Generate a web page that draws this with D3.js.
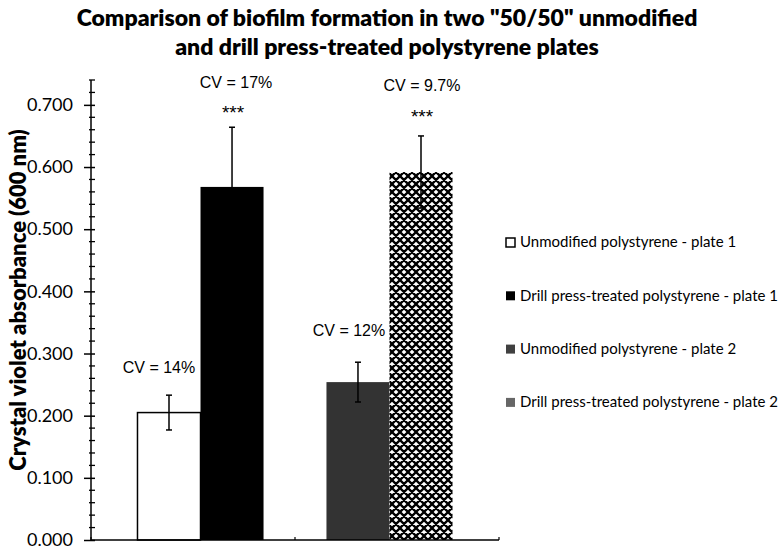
<!DOCTYPE html>
<html lang="en">
<head>
    <meta charset="UTF-8">
    <script src="https://d3js.org/d3.v7.min.js"></script>
    <title>Biofilm formation</title>
    <style>
        body{ margin: 0; background: #fff; }
        svg text{ fill: #000; }
    </style>
</head>
<body>
    <div id="chart"></div>
<script>
// data
const plates = ["plate 1", "plate 2"];
const series = ["Unmodified polystyrene - plate 1", "Drill press-treated polystyrene - plate 1",
                "Unmodified polystyrene - plate 2", "Drill press-treated polystyrene - plate 2"];
const seriesPlate = ["plate 1", "plate 1", "plate 2", "plate 2"];
const absorbance = [0.205, 0.568, 0.254, 0.592];
const errors = [0.028, 0.096, 0.032, 0.058];
const cvLabels = ["CV = 14%", "CV = 17%", "CV = 12%", "CV = 9.7%"];
const stars = ["", "***", "", "***"];
const yTicks = [0, 0.1, 0.2, 0.3, 0.4, 0.5, 0.6, 0.7];

const svg = d3.select("#chart").append("svg").attr("width", 782).attr("height", 550);

// hatch pattern for the last series
const defs = svg.append("defs");
const pat = defs.append("pattern").attr("id", "hatch").attr("patternUnits", "userSpaceOnUse")
    .attr("width", 8).attr("height", 8);
pat.append("rect").attr("width", 8).attr("height", 8).attr("fill", "#fff");
pat.append("path").attr("d", "M-2,2 L2,-2 M0,8 L8,0 M6,10 L10,6 M-2,6 L2,10 M0,0 L8,8 M6,-2 L10,2")
    .attr("stroke", "#000").attr("stroke-width", 2.3);

const fills = ["#fff", "#000", "#333", "url(#hatch)"];

// scales
const y = d3.scaleLinear().domain([0, 0.74]).range([540, 80]);
const x0 = d3.scaleBand().domain(plates).range([91, 499]).paddingInner(0.333).paddingOuter(0.246);
const x1 = d3.scaleBand().domain([0, 1]).range([0, x0.bandwidth()]);
const barX = i => x0(seriesPlate[i]) + x1(i % 2);

// title
const titleFont = "800 23px Lato";
svg.append("text").attr("x", 387).attr("y", 26).attr("text-anchor", "middle")
    .style("font", titleFont).text('Comparison of biofilm formation in two  "50/50" unmodified');
svg.append("text").attr("x", 387).attr("y", 55).attr("text-anchor", "middle")
    .style("font", titleFont).text("and drill  press-treated polystyrene plates");

// y axis label
svg.append("text").attr("transform", "translate(26,300) rotate(-90)").attr("text-anchor", "middle")
    .style("font", "800 22px Lato").text("Crystal violet absorbance (600 nm)");

// bars
const bars = svg.append("g");
absorbance.forEach((v, i) => {
    bars.append("rect")
        .attr("x", barX(i)).attr("width", x1.bandwidth())
        .attr("y", y(v)).attr("height", y(0) - y(v))
        .attr("fill", fills[i])
        .attr("stroke", i === 0 ? "#000" : "none").attr("stroke-width", 1.5);
});

// error bars
const eb = svg.append("g").attr("stroke", "#000").attr("stroke-width", 1.5);
absorbance.forEach((v, i) => {
    const cx = barX(i) + x1.bandwidth() / 2;
    eb.append("line").attr("x1", cx).attr("x2", cx).attr("y1", y(v + errors[i])).attr("y2", y(v - errors[i]));
    [v + errors[i], v - errors[i]].forEach(e => {
        eb.append("line").attr("x1", cx - 3).attr("x2", cx + 3).attr("y1", y(e)).attr("y2", y(e));
    });
});

// CV labels and significance stars
const cvShift = [-10, 4, -9, 1];
const cvLift = [22, 39, 26, 45];
const starLift = [0, 8, 0, 13];
absorbance.forEach((v, i) => {
    const cx = barX(i) + x1.bandwidth() / 2;
    const top = y(v + errors[i]);
    svg.append("text").attr("x", cx + cvShift[i]).attr("y", top - cvLift[i]).attr("text-anchor", "middle")
        .style("font", "16px 'Liberation Sans'").text(cvLabels[i]);
    if (stars[i]) {
        svg.append("text").attr("x", cx + 1).attr("y", top - starLift[i]).attr("text-anchor", "middle")
            .style("font", "19px 'Liberation Sans'").text(stars[i]);
    }
});

// y axis
const yAxis = svg.append("g").attr("transform", "translate(91,0)");
yAxis.call(d3.axisLeft(y).tickValues(yTicks).tickFormat(d3.format(".3f")).tickSizeInner(7).tickSizeOuter(0))
    .call(g => g.select(".domain").attr("stroke", "#000").attr("stroke-width", 1.5))
    .call(g => g.selectAll(".tick line").attr("stroke", "#000").attr("stroke-width", 1.5).attr("x2", -7).attr("x1", 4))
    .call(g => g.selectAll(".tick text").attr("x", -18).style("font", "18px Lato").attr("fill", "#000"));
yAxis.select(".domain").attr("d", `M0,${y(0.74)}V${y(0)}`);
const minor = d3.range(0, 0.741, 0.02).filter(t => Math.abs(t * 10 - Math.round(t * 10)) > 1e-6);
yAxis.selectAll(".minor").data(minor).join("line").attr("class", "minor")
    .attr("x1", -2).attr("x2", 4).attr("y1", d => y(d)).attr("y2", d => y(d))
    .attr("stroke", "#000").attr("stroke-width", 1.3);

// x axis
const xAxis = svg.append("g");
xAxis.append("line").attr("x1", 91).attr("x2", 499).attr("y1", y(0)).attr("y2", y(0))
    .attr("stroke", "#000").attr("stroke-width", 1.5);
const xBounds = [x0.range()[0], (x0.range()[0] + x0.range()[1]) / 2, x0.range()[1]];
xAxis.selectAll(".xt").data(xBounds).join("line").attr("class", "xt")
    .attr("x1", d => d).attr("x2", d => d).attr("y1", y(0)).attr("y2", y(0) - 3)
    .attr("stroke", "#000").attr("stroke-width", 1.2);

// legend
const legend = svg.append("g").attr("transform", "translate(506,242)");
const legendFill = ["#fff", "#000", "#404040", "#666"];
series.forEach((s, i) => {
    const g = legend.append("g").attr("transform", `translate(0,${i * 53.3})`);
    g.append("rect").attr("x", 0).attr("y", -4).attr("width", 9).attr("height", 9)
        .attr("fill", legendFill[i]).attr("stroke", i === 0 ? "#000" : "none").attr("stroke-width", 1.5);
    g.append("text").attr("x", 14).attr("y", 0).attr("dy", "0.35em")
        .style("font", "15px Lato").text(s);
});
</script>
</body>
</html>
